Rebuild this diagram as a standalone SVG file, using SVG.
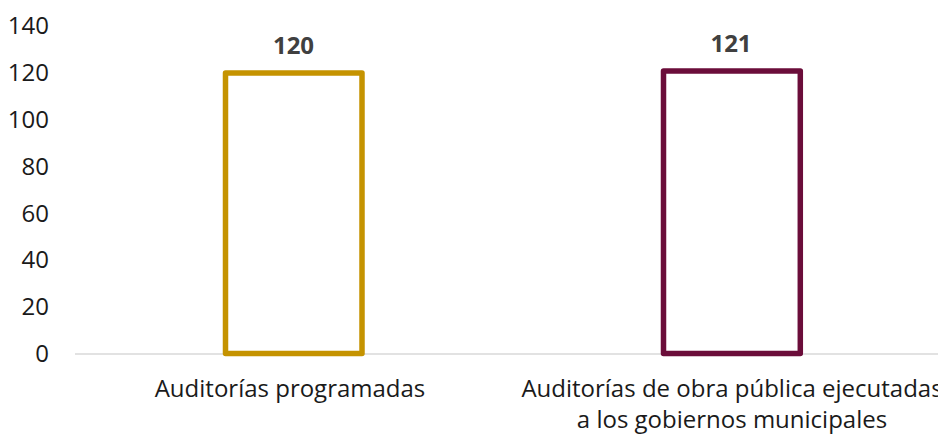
<svg xmlns="http://www.w3.org/2000/svg" width="938" height="434" viewBox="0 0 938 434">
<style>
text{font-family:"Open Sans","Noto Sans","Liberation Sans",sans-serif;font-size:24px}
.ax{fill:#1a1a1a;text-anchor:end}
.cat{fill:#1a1a1a;text-anchor:middle}
.val{fill:#404040;font-weight:bold;text-anchor:middle}
.bar{fill:#ffffff;stroke-width:5.5;stroke-linejoin:round}
</style>
<rect width="938" height="434" fill="#ffffff"/>
<g id="axis">
<text class="ax" x="49" y="34">140</text>
<text class="ax" x="49" y="81">120</text>
<text class="ax" x="49" y="128">100</text>
<text class="ax" x="49" y="174.5">80</text>
<text class="ax" x="49" y="221.5">60</text>
<text class="ax" x="49" y="268">40</text>
<text class="ax" x="49" y="315">20</text>
<text class="ax" x="49" y="361.5">0</text>
<line x1="75" y1="354" x2="938" y2="354" stroke="#d9d9d9" stroke-width="1.5"/>
</g>
<g id="bar1">
<rect class="bar" x="225.5" y="73" width="136.5" height="280.5" stroke="#c59300"/>
<text class="val" x="293.5" y="54">120</text>
<text class="cat" x="290" y="397">Auditorías programadas</text>
</g>
<g id="bar2">
<rect class="bar" x="663.5" y="71" width="136.8" height="282.5" stroke="#6b0d3a"/>
<text class="val" x="731" y="52">121</text>
<text class="cat" x="732" y="397">Auditorías de obra pública ejecutadas</text>
<text class="cat" x="732" y="428">a los gobiernos municipales</text>
</g>
</svg>
